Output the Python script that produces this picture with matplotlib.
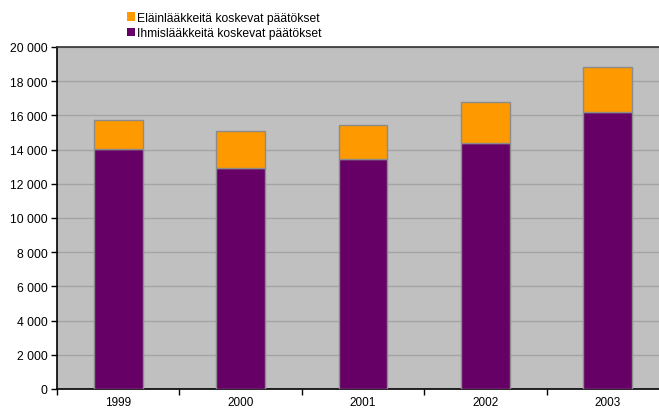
import matplotlib

matplotlib.use("Agg")
import matplotlib.pyplot as plt  # noqa: E402
import numpy as np  # noqa: E402
from matplotlib.patches import Patch  # noqa: E402
from matplotlib.ticker import FuncFormatter, MultipleLocator  # noqa: E402

years = ["1999", "2000", "2001", "2002", "2003"]
human = [14050, 12920, 13450, 14380, 16220]
vet_total = [15750, 15060, 15420, 16780, 18810]
vet = [t - h for t, h in zip(vet_total, human)]

label_vet = "Eläinlääkkeitä koskevat päätökset"
label_human = "Ihmislääkkeitä koskevat päätökset"

plt.rcParams["font.family"] = ["Liberation Sans", "DejaVu Sans"]

fig = plt.figure(figsize=(6.59, 4.10), dpi=100)
ax = fig.add_axes([57 / 659, 1 - 390 / 410, 612 / 659, 342 / 410])
ax.set_facecolor("#c0c0c0")

x = np.arange(len(years))
ax.bar(x, human, width=0.4, color="#660066", edgecolor="#8c8c8c", linewidth=1, zorder=3)
ax.bar(x, vet, width=0.4, bottom=human, color="#ff9900", edgecolor="#8c8c8c",
       linewidth=1, zorder=3)

ax.set_xlim(-0.5, len(years) - 0.5)
ax.set_ylim(0, 20000)
ax.yaxis.set_major_locator(MultipleLocator(2000))
ax.yaxis.set_major_formatter(FuncFormatter(lambda v, _: f"{int(v):,}".replace(",", " ")))
ax.grid(axis="y", color="#a4a4a4", linewidth=1, zorder=1)

# years sit between the tick marks, which fall on category boundaries
ax.set_xticks(np.arange(-0.5, len(years) + 0.5, 1))
ax.set_xticklabels([])
ax.set_xticks(x, minor=True)
ax.set_xticklabels(years, minor=True, fontsize=8.5)
ax.tick_params(axis="x", which="minor", length=0, pad=5)
ax.tick_params(axis="x", which="major", length=4, width=1, direction="out")
ax.tick_params(axis="y", length=4, width=1, direction="out", labelsize=8.75, pad=3)

for side in ["left", "bottom", "top", "right"]:
    ax.spines[side].set_color("#000000")
    ax.spines[side].set_linewidth(1.2)
ax.spines["top"].set_color("#333333")

handles = [Patch(facecolor="#ff9900", edgecolor="none", label=label_vet),
           Patch(facecolor="#660066", edgecolor="none", label=label_human)]
fig.legend(handles=handles, loc="upper left", bbox_to_anchor=(117 / 659, 1 - 3 / 410),
           frameon=False, fontsize=8.75, handlelength=0.65, handleheight=0.65,
           handletextpad=0.2, labelspacing=0.3, borderaxespad=0.4)

fig.savefig("out.png", dpi=100)
